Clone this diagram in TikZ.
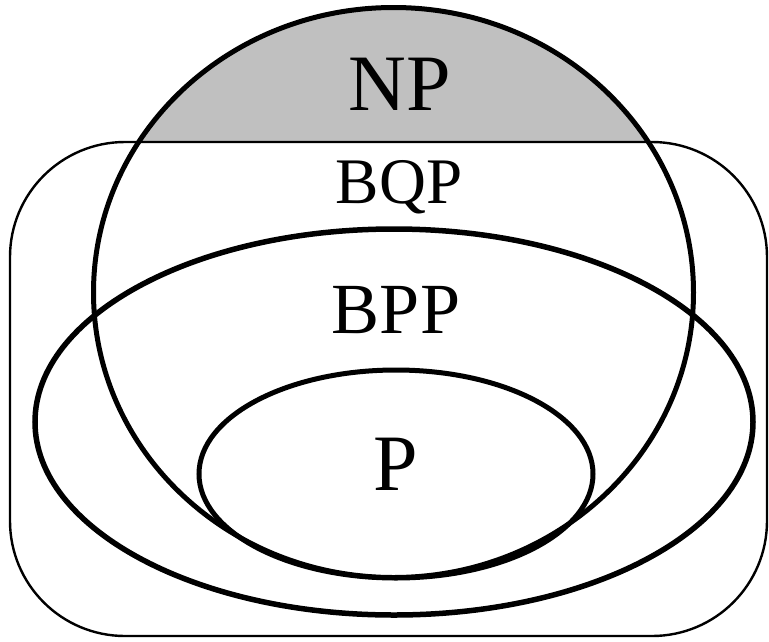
\documentclass[tikz,border=0pt]{standalone}
\usepackage{fontspec}
\setmainfont{Liberation Serif}
\definecolor{npgray}{HTML}{C0C0C0}
\begin{document}
\begin{tikzpicture}[x=1pt,y=-1pt,
  lbl/.style={anchor=base,inner sep=0pt,outer sep=0pt},
  thinline/.style={line width=2.4pt},
  thickline/.style={line width=5pt}]
\useasboundingbox (0,0) rectangle (769,641);
\coordinate (cNP) at (393.5,292.5);
\coordinate (cBPP) at (394,422);
\coordinate (cP) at (396,474);
% gray NP part above BQP box
\begin{scope}
  \clip (0,0) rectangle (769,142);
  \fill[npgray] (cNP) ellipse [x radius=300pt, y radius=285pt];
\end{scope}
% BQP rounded box
\draw[thinline, rounded corners=115pt] (10,142) rectangle (767,636);
% NP circle
\draw[thickline] (cNP) ellipse [x radius=300pt, y radius=285pt];
% BPP ellipse
\draw[line width=5.5pt] (cBPP) ellipse [x radius=359pt, y radius=193pt];
% P ellipse
\draw[thickline] (cP) ellipse [x radius=197pt, y radius=104pt];
% labels
\node[lbl, font=\fontsize{80}{80}\selectfont] (np) at (400,110) {NP};
\node[lbl, font=\fontsize{65}{65}\selectfont] (bqp) at (399,203) {BQP};
\node[lbl, font=\fontsize{72}{72}\selectfont] (bpp) at (396,333) {BPP};
\node[lbl, font=\fontsize{80}{80}\selectfont] (p) at (396,490) {P};
\end{tikzpicture}
\end{document}
